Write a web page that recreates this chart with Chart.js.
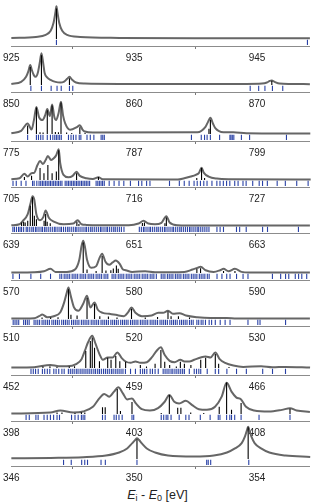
<!DOCTYPE html>
<html>
<head>
<meta charset="utf-8">
<script src="https://cdn.jsdelivr.net/npm/chart.js@4.4.1/dist/chart.umd.min.js"></script>
<style>
  body { margin: 0; background: #fff; }
  #fig { position: relative; width: 315px; height: 503px; overflow: hidden; background: #fff; }
  #fig canvas { position: absolute; left: 0; }
  #xtitle { position: absolute; left: 0; width: 315px; top: 488px; text-align: center;
            font: 12.5px "Liberation Sans", Arial, sans-serif; color: #222; line-height: 14px; }
  #xtitle sub { font-size: 9px; line-height: 0; vertical-align: -2px; }
</style>
</head>
<body>
<div id="fig">
  <div id="xtitle"><i>E</i><sub>i</sub> - <i>E</i><sub>0</sub> [eV]</div>
</div>
<script>
// tick labels, broadened spectrum [eV, rel. intensity], sticks [eV, rel. intensity], transition positions [eV]
const cuTicks = [925, 935, 945];
const cuCurve = [[925.0,0.03],[927.0,0.06],[927.8,0.12],[928.2,0.24],[928.43,0.47],[928.59,0.79],[928.67,0.97],[928.75,0.79],[928.9,0.47],[929.14,0.24],[929.54,0.12],[930.6,0.06],[933.8,0.03],[940.0,0.02],[949.3,0.02]];
const cuSticks = [[928.67,0.9]];
const cuLines = [928.67, 949.1];

const niTicks = [850, 860, 870];
const niCurve = [[850.0,0.03],[850.8,0.09],[851.2,0.24],[851.39,0.41],[851.54,0.59],[851.67,0.44],[851.83,0.29],[851.99,0.24],[852.15,0.35],[852.31,0.65],[852.45,0.94],[852.59,0.65],[852.71,0.35],[852.95,0.21],[853.19,0.15],[853.59,0.09],[853.98,0.07],[854.3,0.1],[854.54,0.18],[854.73,0.24],[854.95,0.15],[855.26,0.07],[855.98,0.04],[858.76,0.03],[869.12,0.03],[870.4,0.04],[870.8,0.07],[871.04,0.12],[871.2,0.13],[871.43,0.09],[871.83,0.04],[872.71,0.03],[874.3,0.02]];
const niSticks = [[851.54,0.53],[852.45,0.88],[854.73,0.2],[871.2,0.12]];
const niLines = [851.59,852.45,853.24,853.72,854.06,854.73,855.0,869.44,870.13,870.64,871.25,872.09];

const coTicks = [775, 787, 799];
const coCurve = [[775.0,0.02],[775.96,0.09],[776.59,0.31],[776.98,0.13],[777.2,0.4],[777.45,0.8],[777.7,0.5],[778.03,0.41],[778.3,0.55],[778.51,0.74],[778.76,0.53],[778.98,0.87],[779.2,0.5],[779.37,0.41],[779.6,0.6],[779.85,0.95],[780.05,0.55],[780.26,0.31],[780.74,0.12],[781.4,0.2],[781.69,0.26],[781.95,0.13],[782.17,0.07],[782.97,0.04],[793.17,0.05],[793.96,0.21],[794.2,0.35],[794.44,0.48],[794.7,0.3],[794.92,0.17],[795.72,0.05],[796.68,0.05],[797.95,0.02],[804.2,0.01]];
const coSticks = [[776.59,0.25],[777.45,0.78],[777.8,0.05],[778.1,0.04],[778.51,0.7],[778.98,0.84],[779.3,0.06],[779.6,0.05],[779.85,0.93],[780.4,0.04],[780.9,0.03],[781.69,0.2],[782.2,0.03],[794.3,0.15],[794.44,0.42]];
const coLines = [776.59,777.45,777.65,777.87,778.09,778.51,778.82,779.05,779.24,779.4,779.56,779.72,779.88,780.58,780.83,781.06,781.31,781.63,781.79,782.39,782.71,783.06,783.77,783.93,784.08,792.59,793.55,793.87,794.12,794.44,795.34,796.35,796.45,796.58,796.73,797.47,798.27,801.87];

const feTicks = [705, 716, 727];
const feCurve = [[705.0,0.02],[705.73,0.05],[706.17,0.18],[706.46,0.1],[706.81,0.2],[707.04,0.21],[707.34,0.44],[707.57,0.56],[707.83,0.47],[708.07,0.59],[708.27,0.71],[708.56,0.59],[708.8,0.64],[709.03,0.74],[709.24,0.91],[709.38,0.49],[709.67,0.15],[710.11,0.08],[710.49,0.12],[710.84,0.24],[711.13,0.12],[711.72,0.05],[712.3,0.03],[712.8,0.08],[713.18,0.02],[719.9,0.01],[720.48,0.05],[721.07,0.1],[721.51,0.15],[721.8,0.21],[722.03,0.36],[722.24,0.21],[722.67,0.1],[723.4,0.04],[724.57,0.02],[731.8,0.01]];
const feSticks = [[706.17,0.09],[706.81,0.12],[707.57,0.35],[707.92,0.2],[708.27,0.44],[708.65,0.2],[709.03,0.25],[709.24,0.88],[710.84,0.2],[712.8,0.09],[721.6,0.06],[722.03,0.35],[722.3,0.06]];
const feLines = [705.15,705.44,705.88,706.31,706.9,707.04,707.28,707.48,707.63,707.78,707.92,708.07,708.21,708.36,708.5,708.65,708.79,708.94,709.09,709.23,709.38,709.53,709.82,709.97,710.11,710.26,710.4,710.55,710.69,710.84,710.98,711.13,711.28,711.42,711.57,711.71,711.86,712.01,712.59,712.74,712.88,713.03,713.17,713.32,713.76,714.2,714.64,715.07,715.66,716.39,716.68,717.11,717.41,719.16,720.04,720.48,720.92,721.36,721.64,721.93,722.23,722.52,722.96,723.4,723.68,723.98,724.27,724.56,725.0,725.3,725.74,726.02,726.61,727.19,727.49,727.92,728.8,729.53,730.55,731.57];

const mnTicks = [639, 651, 663];
const mnCurve = [[639.0,0.02],[639.8,0.05],[640.12,0.15],[640.59,0.34],[640.85,0.64],[641.07,0.88],[641.23,0.79],[641.45,0.34],[641.8,0.17],[642.12,0.26],[642.35,0.46],[642.66,0.24],[643.14,0.13],[644.1,0.05],[645.05,0.07],[645.47,0.17],[645.85,0.05],[646.33,0.03],[647.6,0.02],[650.47,0.02],[651.43,0.07],[651.91,0.15],[652.38,0.07],[653.02,0.05],[653.66,0.09],[654.14,0.29],[654.46,0.1],[655.25,0.02],[657.16,0.01],[668.16,0.01]];
const mnSticks = [[640.0,0.1],[640.2,0.12],[640.35,0.1],[640.6,0.15],[640.85,0.6],[641.07,0.85],[641.25,0.3],[641.45,0.2],[642.2,0.15],[642.35,0.35],[642.5,0.12],[642.8,0.08],[645.4,0.12],[645.6,0.06],[651.8,0.09],[652.0,0.1],[654.0,0.08],[654.14,0.25]];
const mnLines = [639.15,639.3,639.5,639.7,639.85,640.0,640.2,640.45,640.6,640.8,641.0,641.15,641.35,641.5,641.7,641.9,642.05,642.25,642.4,642.6,642.8,643.0,643.2,643.35,643.55,643.75,643.9,644.1,644.3,644.5,644.65,644.85,645.05,645.25,645.4,645.6,645.8,646.0,646.2,646.35,646.55,646.75,646.9,647.1,647.3,647.5,647.7,647.85,648.05,648.25,648.4,648.6,648.8,649.0,649.15,649.35,649.55,649.75,650.0,651.5,651.7,651.9,652.05,652.25,652.45,652.6,652.8,653.0,653.2,653.35,653.55,653.75,653.95,654.1,654.3,654.5,654.7,654.85,655.05,655.25,655.45,655.6,655.8,656.0,656.2,656.4,656.55,656.75,656.95,657.15,657.3,657.5,657.7,657.9,658.1,658.3,659.08,659.39,659.72,660.99,661.3,661.94,663.54,664.02,667.04];

const crTicks = [570, 580, 590];
const crCurve = [[570.0,0.01],[571.86,0.02],[572.66,0.05],[573.19,0.12],[573.59,0.03],[574.52,0.03],[575.18,0.1],[575.53,0.39],[575.71,0.79],[575.85,0.95],[575.98,0.79],[576.16,0.39],[576.51,0.15],[576.91,0.2],[577.17,0.44],[577.39,0.57],[577.65,0.34],[577.97,0.24],[578.24,0.31],[578.5,0.37],[578.82,0.27],[579.09,0.1],[579.3,0.08],[579.83,0.03],[580.89,0.05],[581.69,0.02],[584.08,0.03],[584.75,0.1],[585.14,0.15],[585.41,0.18],[585.81,0.08],[586.47,0.03],[587.0,0.08],[587.27,0.12],[587.67,0.05],[588.2,0.12],[588.73,0.03],[589.39,0.01],[594.3,0.01]];
const crSticks = [[575.85,0.9],[576.16,0.1],[576.9,0.06],[577.39,0.5],[577.7,0.07],[578.1,0.08],[578.3,0.13],[578.55,0.22],[578.7,0.12],[585.1,0.12],[585.4,0.14],[587.27,0.06],[588.2,0.06]];
const crLines = [570.13,570.66,571.59,572.39,573.19,573.95,574.1,574.3,574.45,574.6,574.75,574.95,575.1,575.25,575.4,575.6,575.75,575.9,576.05,576.25,576.4,576.55,576.7,576.9,577.05,577.2,577.35,577.55,577.7,577.85,578.2,578.35,578.5,578.7,578.85,579.0,579.15,579.35,579.5,579.65,579.8,580.0,580.15,580.3,580.45,580.65,580.8,580.95,581.1,581.3,581.45,581.6,581.8,582.2,582.35,582.5,582.7,582.85,583.0,583.15,583.35,583.5,583.65,583.8,584.0,584.15,584.3,584.45,584.65,584.8,584.95,585.1,585.3,585.45,585.6,585.75,585.95,586.1,586.74,587.14,587.53,587.8,588.33,588.86,589.26,591.25,591.92,592.32,592.58,593.11,593.38,593.64,594.04];

const vTicks = [510, 520, 530];
const vCurve = [[510.0,0.01],[511.86,0.02],[512.26,0.08],[512.52,0.13],[512.92,0.05],[513.45,0.08],[513.99,0.2],[514.3,0.49],[514.52,0.79],[514.65,0.93],[514.83,0.69],[515.1,0.34],[515.45,0.24],[515.84,0.44],[516.16,0.69],[516.43,0.34],[516.77,0.49],[517.04,0.27],[517.44,0.18],[517.97,0.15],[518.5,0.12],[519.17,0.08],[519.51,0.2],[519.78,0.34],[520.1,0.18],[520.63,0.08],[521.42,0.1],[521.96,0.18],[522.35,0.18],[522.75,0.24],[523.15,0.15],[523.68,0.17],[524.21,0.1],[525.14,0.05],[526.21,0.03],[527.53,0.03],[528.33,0.01],[534.3,0.01]];
const vSticks = [[512.5,0.04],[513.2,0.04],[513.8,0.05],[514.65,0.88],[514.85,0.12],[515.35,0.1],[516.16,0.62],[516.77,0.44],[517.2,0.08],[517.9,0.07],[518.6,0.04],[519.78,0.3],[520.9,0.04],[521.9,0.06],[522.75,0.22],[523.0,0.08],[523.6,0.08],[524.5,0.04]];
const vLines = [510.15,510.3,510.45,510.6,511.0,511.15,511.3,511.45,511.85,512.0,512.15,512.3,512.5,512.65,512.8,512.95,513.1,513.3,513.45,513.6,513.75,513.9,514.1,514.25,514.4,514.55,514.7,514.9,515.05,515.2,515.35,515.5,515.7,515.85,516.0,516.15,516.3,516.5,516.65,516.8,516.95,517.1,517.3,517.45,517.6,517.75,517.9,518.1,518.25,518.4,518.55,518.7,518.9,519.05,519.2,519.35,519.5,519.7,519.85,520.0,520.15,520.3,520.5,520.65,520.8,520.95,521.1,521.3,521.45,521.6,521.75,521.9,522.1,522.25,522.4,522.55,522.7,522.9,523.05,523.2,523.35,523.5,523.7,523.85,524.0,524.15,524.3,524.5,524.65,524.8,525.1,525.25,525.45,525.6,525.8,526.1,526.3,526.6,527.0,527.4,527.8,529.26,530.06,530.24,532.32];

const tiTicks = [452, 459, 466];
const tiCurve = [[452.0,0.01],[453.3,0.02],[454.23,0.09],[454.7,0.05],[455.16,0.05],[455.72,0.12],[456.0,0.26],[456.19,0.51],[456.37,0.76],[456.61,0.95],[456.8,0.71],[457.02,0.41],[457.21,0.24],[457.49,0.31],[457.77,0.31],[458.04,0.46],[458.29,0.29],[458.51,0.19],[458.79,0.15],[459.07,0.19],[459.35,0.15],[459.72,0.17],[460.0,0.31],[460.28,0.51],[460.52,0.61],[460.74,0.38],[461.02,0.21],[461.3,0.17],[461.63,0.24],[461.86,0.19],[462.14,0.19],[462.42,0.24],[462.79,0.31],[463.07,0.34],[463.35,0.31],[463.62,0.46],[463.87,0.26],[464.18,0.15],[464.65,0.07],[465.21,0.03],[466.23,0.05],[466.88,0.02],[467.62,0.03],[469.02,0.01]];
const tiSticks = [[453.8,0.04],[454.2,0.05],[454.6,0.03],[455.3,0.04],[455.6,0.05],[456.24,0.5],[456.5,0.8],[456.61,0.9],[456.74,0.6],[457.02,0.2],[457.49,0.3],[457.68,0.24],[457.95,0.35],[458.18,0.2],[458.51,0.18],[459.35,0.09],[459.7,0.04],[460.19,0.12],[460.52,0.53],[460.74,0.18],[461.02,0.09],[461.4,0.04],[461.63,0.18],[461.86,0.12],[462.23,0.09],[462.79,0.24],[463.07,0.3],[463.62,0.41],[463.81,0.12],[464.4,0.03]];
const tiLines = [453.12,453.25,453.38,453.53,453.77,453.9,454.05,454.19,454.42,454.55,454.7,454.88,455.01,455.25,455.36,455.47,455.58,455.7,455.8,455.92,456.03,456.14,456.25,456.36,456.47,456.58,456.7,456.8,456.92,457.02,457.13,457.25,457.36,457.47,457.58,457.7,457.8,457.92,458.03,458.14,458.25,458.36,458.5,458.79,459.07,459.35,459.48,459.59,459.72,459.91,460.04,460.19,460.37,460.65,460.76,460.87,460.98,461.1,461.2,461.32,461.43,461.54,461.65,461.76,461.86,462.14,462.42,462.55,462.68,462.79,463.16,463.62,463.81,464.28,464.83,465.39,466.32,466.88,467.62];

const scTicks = [398, 403, 408];
const scCurve = [[398.0,0.01],[399.59,0.04],[399.99,0.1],[400.52,0.04],[400.92,0.07],[401.32,0.21],[401.58,0.46],[401.78,0.59],[401.98,0.51],[402.18,0.66],[402.35,0.79],[402.54,0.61],[402.71,0.43],[402.91,0.46],[403.07,0.31],[403.31,0.14],[403.64,0.1],[403.97,0.17],[404.24,0.36],[404.43,0.56],[404.63,0.36],[404.83,0.31],[405.1,0.39],[405.36,0.26],[405.63,0.14],[405.96,0.12],[406.29,0.21],[406.56,0.51],[406.76,0.92],[406.96,0.66],[407.15,0.49],[407.35,0.43],[407.55,0.21],[407.88,0.1],[408.48,0.07],[409.01,0.12],[409.34,0.17],[409.61,0.1],[410.15,0.06]];
const scSticks = [[399.86,0.04],[400.06,0.04],[400.59,0.03],[400.85,0.05],[400.99,0.04],[401.71,0.2],[401.82,0.2],[402.31,0.74],[402.44,0.09],[402.91,0.35],[404.1,0.03],[404.43,0.56],[404.77,0.18],[404.9,0.18],[405.3,0.04],[405.83,0.03],[406.46,0.21],[406.76,0.93],[406.96,0.12],[407.35,0.32],[409.34,0.15]];
const scLines = [398.6,398.73,399.0,399.09,399.33,399.46,399.59,399.72,399.86,399.96,400.45,400.59,400.72,400.85,400.92,400.99,401.71,401.82,402.18,402.27,402.38,402.51,402.91,402.98,404.1,404.2,404.3,404.37,404.5,404.83,405.1,405.23,405.69,406.09,406.42,406.49,406.76,406.89,406.96,407.09,407.35,408.08,409.34];

const caTicks = [346, 350, 354];
const caCurve = [[346.0,0.02],[347.28,0.03],[348.34,0.05],[349.08,0.1],[349.51,0.19],[349.77,0.31],[349.93,0.46],[350.04,0.57],[350.09,0.61],[350.15,0.57],[350.25,0.46],[350.41,0.31],[350.68,0.19],[351.1,0.1],[351.95,0.07],[352.59,0.1],[353.02,0.19],[353.28,0.31],[353.5,0.47],[353.6,0.65],[353.68,0.88],[353.71,0.95],[353.74,0.88],[353.82,0.65],[353.92,0.47],[354.13,0.31],[354.4,0.19],[354.93,0.1],[355.73,0.06]];
const caSticks = [[350.09,0.58],[353.71,0.94]];
const caLines = [347.7,347.95,348.29,348.39,348.48,348.92,349.06,350.09,352.36,352.41,352.49,353.73];

// one small chart per edge, stacked top to bottom; axisY is where each x axis sits on the page
const panels = [
  { ticks: cuTicks, curve: cuCurve, sticks: cuSticks, lines: cuLines, axisY: 46 },
  { ticks: niTicks, curve: niCurve, sticks: niSticks, lines: niLines, axisY: 92 },
  { ticks: coTicks, curve: coCurve, sticks: coSticks, lines: coLines, axisY: 141 },
  { ticks: feTicks, curve: feCurve, sticks: feSticks, lines: feLines, axisY: 187 },
  { ticks: mnTicks, curve: mnCurve, sticks: mnSticks, lines: mnLines, axisY: 233 },
  { ticks: crTicks, curve: crCurve, sticks: crSticks, lines: crLines, axisY: 280 },
  { ticks: vTicks, curve: vCurve, sticks: vSticks, lines: vLines, axisY: 326 },
  { ticks: tiTicks, curve: tiCurve, sticks: tiSticks, lines: tiLines, axisY: 375 },
  { ticks: scTicks, curve: scCurve, sticks: scSticks, lines: scLines, axisY: 421 },
  { ticks: caTicks, curve: caCurve, sticks: caSticks, lines: caLines, axisY: 466 }
];

const fig = document.getElementById('fig');
const tickFont = { family: "'Liberation Sans Narrow', 'Liberation Sans', Arial, sans-serif", size: 10 };
const AREA_H = 46;   // plot height wanted for every panel, px
const BLUE = 'rgba(30, 55, 160, 0.95)';

panels.forEach(p => {
  const canvas = document.createElement('canvas');
  canvas.width = 315;
  canvas.height = 64;
  canvas.style.width = '315px';
  canvas.style.height = '64px';
  fig.appendChild(canvas);

  const step = p.ticks[1] - p.ticks[0];
  const chart = new Chart(canvas.getContext('2d'), {
    type: 'line',
    data: {
      datasets: [
        {
          type: 'scatter',
          data: p.lines.map(x => ({ x: x, y: -0.1 })),
          pointStyle: 'line',
          pointRotation: 90,
          pointRadius: 2.6,
          pointBorderWidth: 1.1,
          pointBorderColor: BLUE,
          pointBackgroundColor: BLUE,
          order: 0
        },
        {
          type: 'bar',
          data: p.sticks.map(s => ({ x: s[0], y: s[1] })),
          backgroundColor: '#000',
          barThickness: 1.1,
          inflateAmount: 0,
          order: 1
        },
        {
          type: 'line',
          data: p.curve.map(c => ({ x: c[0], y: c[1] })),
          borderColor: '#666',
          borderWidth: 2,
          pointRadius: 0,
          cubicInterpolationMode: 'monotone',
          clip: false,
          order: 2
        }
      ]
    },
    options: {
      responsive: false,
      maintainAspectRatio: false,
      animation: false,
      events: [],
      layout: { padding: { left: 10, right: 0, top: 0, bottom: 0 } },
      plugins: { legend: { display: false }, tooltip: { enabled: false } },
      scales: {
        x: {
          type: 'linear',
          min: p.ticks[0],
          max: p.ticks[0] + 2.43 * step,
          offset: false,
          afterBuildTicks: scale => { scale.ticks = p.ticks.map(v => ({ value: v })); },
          grid: { drawOnChartArea: false, tickLength: 3, tickColor: '#777' },
          border: { color: '#8c8c8c', width: 1 },
          ticks: { padding: 3, color: '#222', font: tickFont, maxRotation: 0, autoSkip: false }
        },
        y: { display: false, min: -0.21, max: 1.15 }
      }
    }
  });

  // keep the plot height the same in every panel, then line the x axis up with the page
  const diff = AREA_H - chart.chartArea.height;
  if (Math.abs(diff) > 0.5) chart.resize(315, Math.round(64 + diff));
  canvas.style.top = (p.axisY - Math.round(chart.chartArea.bottom)) + 'px';
});
</script>
</body>
</html>
